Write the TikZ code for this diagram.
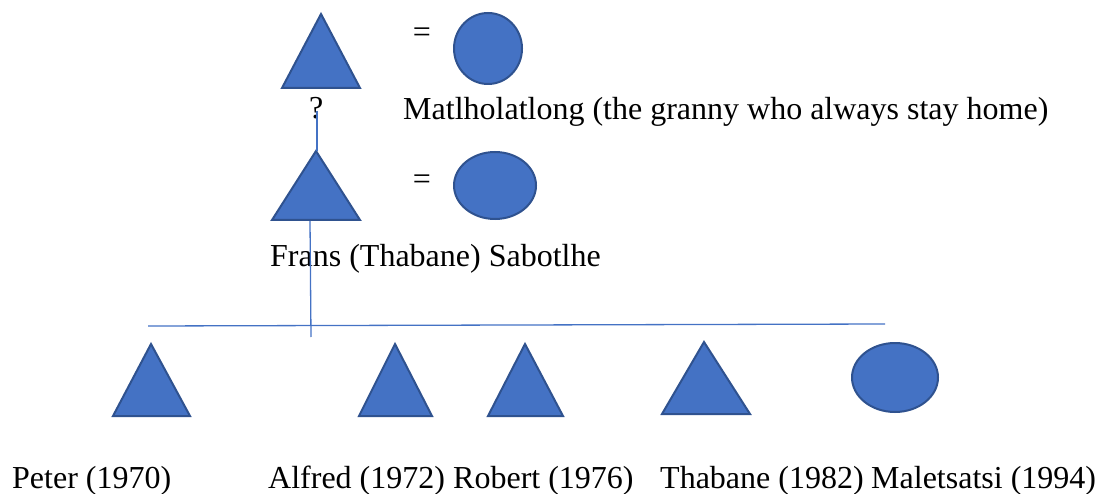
\documentclass[tikz,border=0pt]{standalone}
\usepackage{fontspec}
\setmainfont{Liberation Serif}
\usetikzlibrary{shapes.geometric}
\definecolor{fillblue}{HTML}{4472C4}
\definecolor{edgeblue}{HTML}{2F528F}
\definecolor{lineblue}{HTML}{4472C4}
\begin{document}
\begin{tikzpicture}[x=1pt,y=-1pt,
  malestyle/.style={fill=fillblue,draw=edgeblue,line width=2pt,line join=miter},
  femalestyle/.style={ellipse,fill=fillblue,draw=edgeblue,line width=2pt,inner sep=0pt},
  linkline/.style={draw=lineblue,line width=1.3pt},
  lbl/.style={font=\fontsize{32}{38}\selectfont,inner sep=0pt,anchor=base west},
  eqsign/.style={font=\fontsize{32}{38}\selectfont,inner sep=0pt,anchor=base}]
\useasboundingbox (0,0) rectangle (1105,494);

% generation 1
\coordinate (g1apex) at (321,14);
\coordinate (g1bl) at (282,88);
\coordinate (g1br) at (360,88);
\draw[malestyle] (g1apex) -- (g1bl) -- (g1br) -- cycle;
\node[eqsign] (eq1) at (422,43) {=};
\node[femalestyle,minimum width=68pt,minimum height=71pt] (g1wife) at (488,48.5) {};
\node[lbl] (g1name) at (309,119) {?};
\node[lbl] (g1wname) at (403,120) {Matlholatlong (the granny who always stay home)};

% generation 2
\coordinate (g2apex) at (316,151);
\coordinate (g2bl) at (272,220);
\coordinate (g2br) at (360,220);
\draw[malestyle] (g2apex) -- (g2bl) -- (g2br) -- cycle;
\node[eqsign] (eq2) at (422,190) {=};
\node[femalestyle,minimum width=82pt,minimum height=67pt] (g2wife) at (495,185.5) {};
\node[lbl] (g2name) at (270,267) {Frans (Thabane) Sabotlhe};

% connectors
\coordinate (qbot) at (317,111);
\coordinate (g2top) at (317,151);
\draw[linkline] (qbot) -- (g2top);
\coordinate (g2drop) at (310,221);
\coordinate (g2end) at (311,337);
\draw[linkline] (g2drop) -- (g2end);
\coordinate (sibL) at (148,326);
\coordinate (sibR) at (885,324);
\draw[linkline] (sibL) -- (sibR);

% children
\coordinate (c1apex) at (151,344);
\coordinate (c1bl) at (113,416);
\coordinate (c1br) at (190,416);
\draw[malestyle] (c1apex) -- (c1bl) -- (c1br) -- cycle;
\coordinate (c2apex) at (395,344);
\coordinate (c2bl) at (359,416);
\coordinate (c2br) at (432,416);
\draw[malestyle] (c2apex) -- (c2bl) -- (c2br) -- cycle;
\coordinate (c3apex) at (525,344);
\coordinate (c3bl) at (488,416);
\coordinate (c3br) at (563,416);
\draw[malestyle] (c3apex) -- (c3bl) -- (c3br) -- cycle;
\coordinate (c4apex) at (704,342);
\coordinate (c4bl) at (662,414);
\coordinate (c4br) at (750,414);
\draw[malestyle] (c4apex) -- (c4bl) -- (c4br) -- cycle;
\node[femalestyle,minimum width=86pt,minimum height=69pt] (c5) at (895,377.5) {};

\node[lbl] (c1name) at (12,488) {Peter (1970)};
\node[lbl] (c2name) at (268,488) {Alfred (1972)};
\node[lbl] (c3name) at (453,488) {Robert (1976)};
\node[lbl] (c4name) at (660,488) {Thabane (1982)};
\node[lbl] (c5name) at (871,488) {Maletsatsi (1994)};
\end{tikzpicture}
\end{document}
